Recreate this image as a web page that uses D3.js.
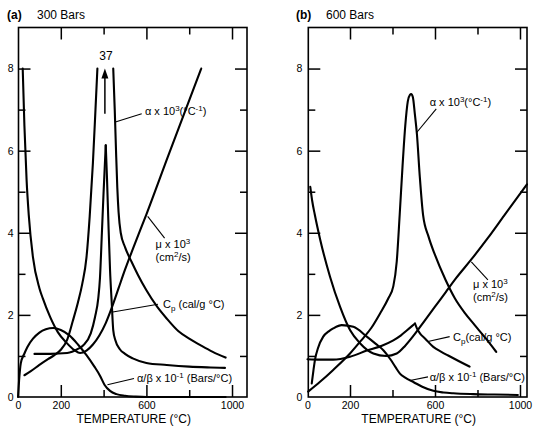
<!DOCTYPE html>
<html><head><meta charset="utf-8">
<script src="https://cdn.jsdelivr.net/npm/d3@7"></script>
<style>
body{margin:0;background:#fff}
svg{display:block}
text{font-family:"Liberation Sans",Arial,Helvetica,sans-serif;fill:#000}
</style>
</head><body><svg id="chart" width="538" height="430"></svg>
<script>
// ---------------- data ----------------
const xTickLabels = [0, 200, 600, 1000];
const xMajorTicks = [200, 600, 1000];
const xMinorTicks = [400, 800];
const yTickLabels = [0, 2, 4, 6, 8];
const yMajorTicks = [2, 4, 6, 8];
const yMinorTicks = [1, 3, 5, 7];

// (a) 300 Bars
const mu300T = [22, 30, 40, 50, 70, 100, 116, 150, 186, 225, 264, 290, 320, 350, 380, 410, 440, 470, 500, 540, 600, 700, 856];
const mu300V = [8.0, 6.6, 5.3, 4.45, 3.4, 2.65, 2.4, 1.95, 1.58, 1.33, 1.14, 1.07, 1.13, 1.28, 1.5, 1.8, 2.2, 2.65, 3.1, 3.65, 4.45, 5.85, 8.0];
const alpha300LeftT = [30, 60, 100, 140, 170, 200, 230, 256, 280, 300, 320, 335, 350, 362, 371];
const alpha300LeftV = [0.53, 0.63, 0.78, 0.92, 1.02, 1.15, 1.4, 1.85, 2.3, 2.75, 3.4, 4.4, 5.7, 7.0, 8.0];
const alpha300RightT = [445, 452, 458, 464, 470, 480, 500, 530, 560, 600, 650, 695, 750, 800, 850, 910, 970];
const alpha300RightV = [8.0, 7.0, 6.0, 5.1, 4.5, 4.0, 3.65, 3.3, 2.98, 2.6, 2.2, 1.91, 1.6, 1.42, 1.27, 1.1, 0.96];
const alpha300Peak = 37;
const cp300LeftT = [77, 150, 230, 280, 305, 340, 360, 375, 383, 392, 400, 410];
const cp300LeftV = [1.05, 1.05, 1.07, 1.17, 1.26, 1.55, 1.95, 2.4, 2.9, 4.0, 5.0, 6.13];
const cp300RightT = [410, 416, 422, 430, 438, 445, 455, 475, 500, 536, 600, 695, 800, 900, 967];
const cp300RightV = [6.13, 5.3, 4.31, 3.1, 2.29, 1.63, 1.38, 1.17, 1.05, 0.94, 0.83, 0.78, 0.74, 0.72, 0.71];
const ab300T = [0, 5, 13, 30, 44, 70, 100, 130, 165, 200, 240, 280, 320, 357, 383, 404, 430, 460, 500, 550, 600, 970];
const ab300V = [0, 0.4, 0.82, 1.06, 1.22, 1.42, 1.57, 1.65, 1.68, 1.63, 1.5, 1.28, 1.02, 0.74, 0.52, 0.3, 0.15, 0.07, 0.03, 0.01, 0, 0];

// (b) 600 Bars
const mu600T = [13, 22, 34, 59, 106, 153, 200, 247, 310, 370, 420, 460, 500, 550, 600, 650, 700, 771, 850, 927, 1033];
const mu600V = [5.12, 4.78, 4.45, 3.85, 2.93, 2.2, 1.63, 1.31, 1.06, 1.0, 1.06, 1.25, 1.5, 1.85, 2.2, 2.55, 2.9, 3.35, 3.88, 4.43, 5.18];
const alpha600T = [3, 59, 121, 200, 253, 300, 341, 380, 404, 420, 434, 447, 460, 472, 482, 488, 496, 505, 515, 528, 544, 570, 600, 650, 694, 740, 787, 840, 888];
const alpha600V = [0.13, 0.37, 0.66, 1.06, 1.38, 1.68, 2.03, 2.4, 2.7, 3.3, 4.45, 5.6, 6.6, 7.2, 7.36, 7.38, 7.3, 6.9, 6.4, 5.4, 4.43, 3.9, 3.46, 2.85, 2.4, 2.05, 1.75, 1.42, 1.1];
const cp600LeftT = [0, 60, 121, 200, 279, 350, 404, 440, 467, 490, 506];
const cp600LeftV = [0.92, 0.91, 0.91, 0.98, 1.13, 1.25, 1.38, 1.5, 1.62, 1.72, 1.79];
const cp600RightT = [506, 515, 529, 554, 592, 630, 662, 702, 763];
const cp600RightV = [1.79, 1.67, 1.55, 1.42, 1.22, 1.1, 1.01, 0.9, 0.74];
const ab600T = [20, 28, 35, 50, 74, 100, 121, 161, 216, 279, 320, 357, 390, 415, 435, 460, 500, 540, 592, 640, 686, 780, 880, 990];
const ab600V = [0.33, 0.65, 0.9, 1.2, 1.47, 1.6, 1.67, 1.75, 1.71, 1.47, 1.3, 1.14, 0.92, 0.72, 0.57, 0.47, 0.36, 0.25, 0.15, 0.11, 0.09, 0.07, 0.06, 0.05];

const xAxisTitle = "TEMPERATURE (°C)";

// ---------------- layout ----------------
const svg = d3.select("#chart");
const yTop = 27.5, yBottom = 397;
const y = d3.scaleLinear().domain([0, 9]).range([yBottom, yTop]);

const zip = (T, V) => T.map((t, i) => [t, V[i]]);

const panels = [
  {
    tag: "(a)", title: "300 Bars", tagX: 7, titleX: 37,
    x: d3.scaleLinear().domain([0, 1070]).range([18, 247]),
    frame: [18.5, 247],
    yLabelPad: 5,
    series: [zip(mu300T, mu300V), zip(alpha300LeftT, alpha300LeftV), zip(alpha300RightT, alpha300RightV),
             zip(cp300LeftT, cp300LeftV), zip(cp300RightT, cp300RightV), zip(ab300T, ab300V)],
    labels: [
      { parts: [["α x 10"], ["3", 1], ["(°C"], ["-1", 1], [")"]], at: [593, 6.86], line: [[455, 6.7], [578, 6.9]] },
      { parts: [["μ x 10"], ["3", 1]], at: [643, 3.62], line: [[606, 4.4], [685, 3.87]] },
      { parts: [["(cm"], ["2", 1], ["/s)"]], at: [643, 3.32] },
      { parts: [["C"], ["p", -1], [" (cal/g °C)"]], at: [678, 2.16], line: [[443, 2.07], [654, 2.26]] },
      { parts: [["α/β  x 10"], ["-1", 1], [" (Bars/°C)"]], at: [556, 0.37], line: [[418, 0.3], [542, 0.45]] }
    ],
    arrow: { t: 406, from: 6.9, to: 8.0, label: String(alpha300Peak), labelY: 8.2 }
  },
  {
    tag: "(b)", title: "600 Bars", tagX: 296, titleX: 326,
    x: d3.scaleLinear().domain([0, 1033]).range([307.5, 527]),
    frame: [308.3, 527],
    yLabelPad: 6,
    series: [zip(mu600T, mu600V), zip(alpha600T, alpha600V),
             zip(cp600LeftT, cp600LeftV), zip(cp600RightT, cp600RightV), zip(ab600T, ab600V)],
    labels: [
      { parts: [["α x 10"], ["3", 1], ["(°C"], ["-1", 1], [")"]], at: [575, 7.09], line: [[512, 6.43], [606, 7.02]] },
      { parts: [["μ x 10"], ["3", 1]], at: [779, 2.65], line: [[771, 3.29], [849, 2.85]] },
      { parts: [["(cm"], ["2", 1], ["/s)"]], at: [779, 2.34] },
      { parts: [["C"], ["p", -1], ["(cal/g °C)"]], at: [685, 1.36], line: [[567, 1.35], [669, 1.47]] },
      { parts: [["α/β  x 10"], ["-1", 1], [" (Bars/°C)"]], at: [575, 0.39], line: [[488, 0.41], [567, 0.49]] }
    ]
  }
];

panels.forEach(p => {
  const x = p.x;
  const g = svg.append("g");
  const [fx0, fx1] = p.frame;

  // titles
  g.append("text").attr("x", p.tagX).attr("y", 18.5).attr("font-size", 12).attr("font-weight", "bold").text(p.tag);
  g.append("text").attr("x", p.titleX).attr("y", 18.5).attr("font-size", 12).text(p.title);

  // frame
  g.append("rect").attr("x", fx0).attr("y", y(9)).attr("width", fx1 - fx0).attr("height", y(0) - y(9))
    .attr("fill", "none").attr("stroke", "#000").attr("stroke-width", 1.6);

  const styleAxis = sel => {
    sel.select(".domain").remove();
    sel.selectAll(".tick line").attr("stroke", "#000").attr("stroke-width", 1.5);
    sel.selectAll(".tick text").attr("font-size", 10.5).attr("fill", "#000")
      .attr("font-family", '"Liberation Sans",Arial,Helvetica,sans-serif');
  };

  // bottom axis: labels
  g.append("g").attr("transform", `translate(0,${y(0)})`)
    .call(d3.axisBottom(x).tickValues(xTickLabels).tickSize(0).tickPadding(5).tickFormat(d3.format("d")))
    .call(styleAxis);
  // bottom + top ticks
  [[xMajorTicks, 12], [xMinorTicks, 7]].forEach(([vals, len]) => {
    g.append("g").attr("transform", `translate(0,${y(0)})`)
      .call(d3.axisBottom(x).tickValues(vals).tickSize(-len).tickFormat("")).call(styleAxis);
    g.append("g").attr("transform", `translate(0,${y(9)})`)
      .call(d3.axisTop(x).tickValues(vals).tickSize(-len).tickFormat("")).call(styleAxis);
  });
  // left axis labels
  g.append("g").attr("transform", `translate(${fx0},0)`)
    .call(d3.axisLeft(y).tickValues(yTickLabels).tickSize(0).tickPadding(p.yLabelPad).tickFormat(d3.format("d")))
    .call(styleAxis);
  [[yMajorTicks, 12], [yMinorTicks, 7]].forEach(([vals, len]) => {
    g.append("g").attr("transform", `translate(${fx0},0)`)
      .call(d3.axisLeft(y).tickValues(vals).tickSize(-len).tickFormat("")).call(styleAxis);
    g.append("g").attr("transform", `translate(${fx1},0)`)
      .call(d3.axisRight(y).tickValues(vals).tickSize(-len).tickFormat("")).call(styleAxis);
  });
  // drop empty text nodes made by label-less tick axes
  g.selectAll(".tick text").filter(function () { return !this.textContent; }).remove();

  // x title
  g.append("text").attr("x", (fx0 + fx1) / 2 + 1).attr("y", 423).attr("text-anchor", "middle")
    .attr("font-size", 12).text(xAxisTitle);

  // curves
  const line = d3.line().x(d => x(d[0])).y(d => y(d[1])).curve(d3.curveMonotoneX);
  g.selectAll("path.curve").data(p.series).enter().append("path").attr("class", "curve")
    .attr("d", line).attr("fill", "none").attr("stroke", "#000").attr("stroke-width", 2.1)
    .attr("stroke-linejoin", "round").attr("stroke-linecap", "round");

  // labels + pointers
  p.labels.forEach(l => {
    if (l.line) {
      g.append("line").attr("x1", x(l.line[0][0])).attr("y1", y(l.line[0][1]))
        .attr("x2", x(l.line[1][0])).attr("y2", y(l.line[1][1]))
        .attr("stroke", "#000").attr("stroke-width", 1.1);
    }
    const t = g.append("text").attr("x", x(l.at[0])).attr("y", y(l.at[1])).attr("font-size", 11);
    l.parts.forEach(([s, kind]) => {
      const ts = t.append("tspan").text(s);
      if (kind === 1) ts.attr("font-size", 8).attr("baseline-shift", 4.5);
      else if (kind === -1) ts.attr("font-size", 8).attr("baseline-shift", -2.5);
    });
  });

  // arrow to off-scale peak
  if (p.arrow) {
    const a = p.arrow;
    const ax = x(a.t), y0 = y(a.from), y1 = y(a.to);
    g.append("line").attr("x1", ax).attr("x2", ax).attr("y1", y0).attr("y2", y1 + 8)
      .attr("stroke", "#000").attr("stroke-width", 1.5);
    g.append("path").attr("d", `M${ax},${y1}L${ax - 3.5},${y1 + 10}L${ax + 3.5},${y1 + 10}Z`).attr("fill", "#000");
    g.append("text").attr("x", ax + 1).attr("y", y(a.labelY)).attr("text-anchor", "middle")
      .attr("font-size", 12).text(a.label);
  }
});
</script></body></html>
